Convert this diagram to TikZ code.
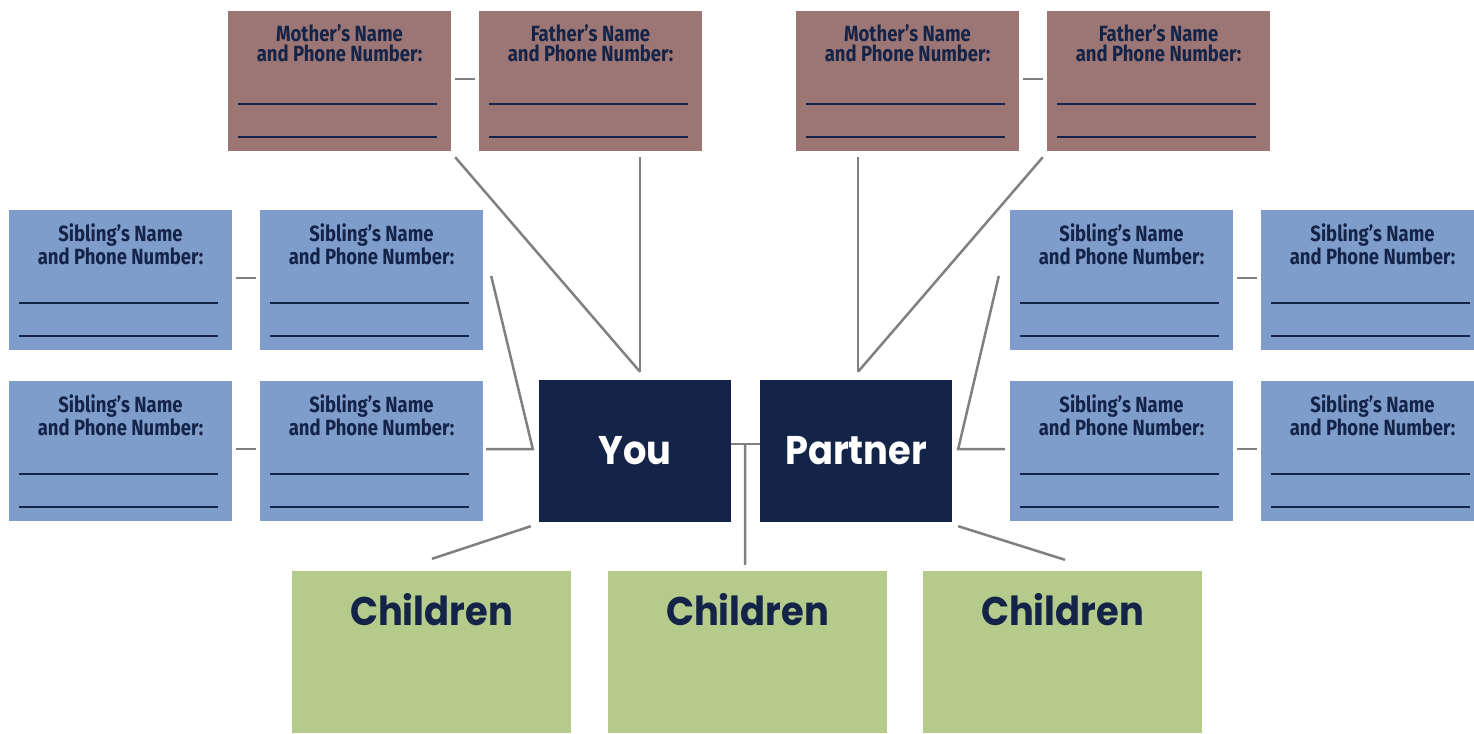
\documentclass[tikz,border=0pt]{standalone}
\usepackage{fontspec}
\usetikzlibrary{calc}
\newfontfamily\formfont{Fira Sans}[FakeStretch=0.84]
\newfontfamily\headfont{Poppins}[FakeStretch=0.92]
\definecolor{ftBrown}{HTML}{9B7674}
\definecolor{ftBlue} {HTML}{7F9DCA}
\definecolor{ftNavy} {HTML}{142348}
\definecolor{ftGreen}{HTML}{B5CB8C}
\definecolor{ftGray} {HTML}{808080}

\begin{document}
\begin{tikzpicture}[x=1pt,y=-1pt,
    form/.style={draw=none,minimum width=223pt,minimum height=140pt,inner sep=0pt,
      label={[anchor=north,yshift=-14pt,inner sep=0pt,align=center,text=ftNavy,
              font=\formfont\bfseries\fontsize{22}{20}\selectfont]north:{#1}},
      path picture={\foreach \h in {14,47}
        \draw[ftNavy,line width=2pt]
          ([shift={(10,-\h)}]path picture bounding box.south west) --
          ([shift={(-14,-\h)}]path picture bounding box.south east);}},
    parent/.style={form={#1’s Name\\and Phone Number:},fill=ftBrown},
    sib/.style={form={Sibling’s Name\\and Phone Number:},fill=ftBlue},
    core/.style={draw=none,fill=ftNavy,text=white,minimum width=192pt,minimum height=142pt,
                 inner sep=0pt,font=\headfont\bfseries\fontsize{40}{40}\selectfont},
    kid/.style={draw=none,fill=ftGreen,minimum width=279pt,minimum height=162pt,inner sep=0pt,
      label={[anchor=north,yshift=-22pt,inner sep=0pt,text=ftNavy,
              font=\headfont\bfseries\fontsize{40}{40}\selectfont]north:Children}},
    link/.style={draw=ftGray,line width=2.5pt},
    gap/.style={shorten <=4pt,shorten >=4pt}]

  \useasboundingbox (0,0) rectangle (1474,733);

  % grandparents
  \node[parent=Mother] (mL) at (339.5,81) {};
  \node[parent=Father] (fL) at (590.5,81) {};
  \node[parent=Mother] (mR) at (907.5,81) {};
  \node[parent=Father] (fR) at (1158.5,81) {};

  % siblings on both sides
  \node[sib] (s1) at (120.5,280) {};
  \node[sib] (s2) at (371.5,280) {};
  \node[sib] (s3) at (120.5,451) {};
  \node[sib] (s4) at (371.5,451) {};
  \node[sib] (s5) at (1121.5,280) {};
  \node[sib] (s6) at (1372.5,280) {};
  \node[sib] (s7) at (1121.5,451) {};
  \node[sib] (s8) at (1372.5,451) {};

  \node[core] (you) at (635,451) {You};
  \node[core] (pt)  at (856,451) {Partner};

  \node[kid] (c1) at (431.5,652) {};
  \node[kid] (c2) at (747.5,652) {};
  \node[kid] (c3) at (1062.5,652) {};

  \foreach \a/\b in {mL/fL,mR/fR,s1/s2,s3/s4,s5/s6,s7/s8}
    \draw[link,gap] ([yshift=2pt]\a.east) -- ([yshift=2pt]\b.west);

  % where the lines meet the couple
  \coordinate (youTop) at ([shift={(5,-8)}]you.north);
  \coordinate (ptTop)  at ([shift={(2,-8)}]pt.north);
  \coordinate (jL) at ([shift={(-6,-2)}]you.west);
  \coordinate (jR) at ([shift={(6,-2)}]pt.east);

  \draw[link] ([shift={(4,6)}]mL.south east) -- (youTop);
  \draw[link] ($(youTop |- fL.south)+(0,6)$) -- (youTop);
  \draw[link] ($(ptTop |- mR.south)+(0,6)$) -- (ptTop);
  \draw[link] ([shift={(-4,6)}]fR.south west) -- (ptTop);

  \draw[link] ([shift={(8,-4)}]s2.east) -- (jL) -- ([shift={(3,-2)}]s4.east);
  \draw[link] ([shift={(-11,-4)}]s5.west) -- (jR) -- ([shift={(-5,-2)}]s7.west);

  \draw[link] ([shift={(0,-7)}]you.east) -- ([shift={(0,-7)}]pt.west);
  \draw[link] ([shift={(14,-7)}]you.east) -- ([shift={(-2.5,-6)}]c2.north);
  \draw[link] ([shift={(-8,4)}]you.south west) -- ([shift={(0.5,-12)}]c1.north);
  \draw[link] ([shift={(6,4)}]pt.south east) -- ([shift={(2.5,-11)}]c3.north);
\end{tikzpicture}
\end{document}
